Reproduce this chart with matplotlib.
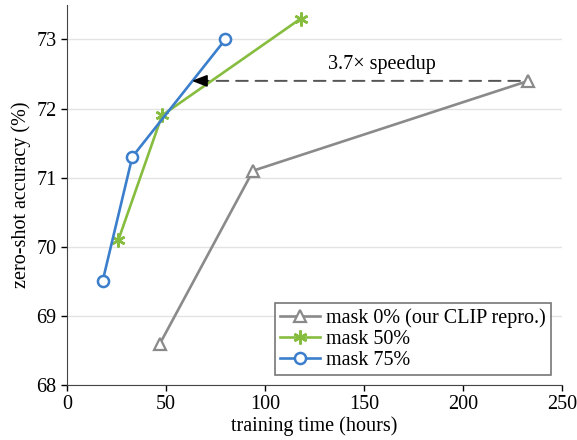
import matplotlib
matplotlib.use("Agg")
import matplotlib.pyplot as plt

plt.rcParams['font.family'] = ['Liberation Serif', 'DejaVu Serif']
plt.rcParams['mathtext.fontset'] = 'stix'

x0 = [47, 94, 233]
y0 = [68.6, 71.1, 72.4]
x50 = [26, 48, 118]
y50 = [70.1, 71.9, 73.3]
x75 = [18, 33, 80]
y75 = [69.5, 71.3, 73.0]
labels = ["mask 0% (our CLIP repro.)", "mask 50%", "mask 75%"]
xticks = [0, 50, 100, 150, 200, 250]
yticks = [68, 69, 70, 71, 72, 73]
arrow_start = (233, 72.4)
arrow_end = (63, 72.4)
speedup_text = "3.7× speedup"

FS = 14.5
fig = plt.figure(figsize=(5.77, 4.4), dpi=100)
ax = fig.add_axes([0.116, 0.125, 0.858, 0.864])

gray = '#8a8a8a'
green = '#86bd3f'
blue = '#3b7fcc'

ax.plot(x0, y0, color=gray, lw=1.9, marker='^', ms=9, mfc='white', mec=gray, mew=1.6, label=labels[0], zorder=3)
ax.plot(x50, y50, color=green, lw=1.9, marker=(6, 2, 0), ms=10, mec=green, mew=1.8, label=labels[1], zorder=3)
ax.plot(x75, y75, color=blue, lw=1.9, marker='o', ms=8, mfc='white', mec=blue, mew=1.8, label=labels[2], zorder=4)

ax.annotate('', xy=arrow_end, xytext=arrow_start,
            arrowprops=dict(arrowstyle='-', linestyle=(0, (6, 4)),
                            color='#555555', lw=1.4, shrinkA=6, shrinkB=6), zorder=2)
ax.annotate('', xy=arrow_end, xytext=(arrow_end[0] + 8, arrow_end[1]),
            arrowprops=dict(arrowstyle='-|>,head_length=0.9,head_width=0.35', color='black', lw=1.4,
                            shrinkA=0, shrinkB=0), zorder=5)
ax.text(159, 72.5, speedup_text, ha='center', va='bottom', fontsize=FS)

ax.set_xlim(0, 250)
ax.set_ylim(68, 73.5)
ax.set_xticks(xticks)
ax.set_yticks(yticks)
ax.tick_params(labelsize=FS, length=4, width=1, direction='out')
ax.yaxis.grid(True, color='#e3e3e3', lw=1)
ax.set_axisbelow(True)
for s in ['top', 'right']:
    ax.spines[s].set_visible(False)
for s in ['left', 'bottom']:
    ax.spines[s].set_color('#444444')
ax.set_xlabel('training time (hours)', fontsize=FS, labelpad=1)
ax.set_ylabel('zero-shot accuracy (%)', fontsize=FS, labelpad=4)

leg = ax.legend(loc='lower right', fontsize=FS, frameon=True, fancybox=False, edgecolor='#555555',
                handlelength=2.0, handletextpad=0.3, borderpad=0.25, labelspacing=0.1,
                bbox_to_anchor=(0.998, 0.0))
leg.get_frame().set_linewidth(1.2)

fig.savefig('out.png', dpi=100)
